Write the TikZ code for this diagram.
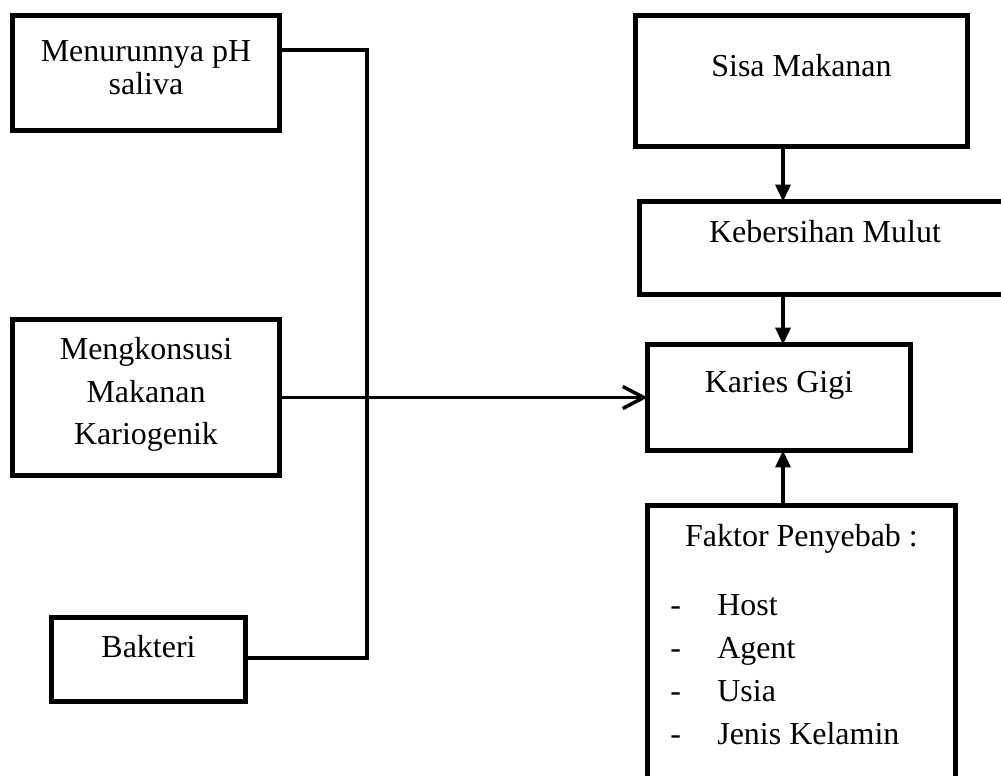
\documentclass[tikz,border=0pt]{standalone}
\usepackage{fontspec}
\setmainfont{Liberation Serif}
\usetikzlibrary{arrows.meta,calc}

\tikzset{
    box/.style={draw, line width=2.85pt, inner sep=0pt, outer sep=0pt},
    link/.style={line width=2pt},
    tri/.style={link, -{Triangle[width=0.3cm,length=0.34cm]}},
    barb/.style={link, -{Straight Barb[width=0.44cm,length=0.42cm]}},
    txt/.style={anchor=base, inner sep=0pt}
}

\begin{document}
\begin{tikzpicture}[x=0.02cm, y=-0.02cm, font=\fontsize{18.2}{24}\selectfont]
    \path[use as bounding box, clip] (0,0) rectangle (1001,776);

    % Left boxes
    \node[box, minimum width=5.34cm, minimum height=2.3cm] (ph) at (146,73) {};
    \node[box, minimum width=5.34cm, minimum height=3.12cm] (konsumsi) at (146,397.5) {};
    \node[box, minimum width=3.88cm, minimum height=1.68cm] (bakteri) at (148.5,659.5) {};
    \node[txt] (ph1) at (146,62) {Menurunnya pH};
    \node[txt] (ph2) at (146,95) {saliva};
    \node[txt] (ko1) at (146,360) {Mengkonsusi};
    \node[txt] (ko2) at (146,403) {Makanan};
    \node[txt] (ko3) at (146,445) {Kariogenik};
    \node[txt] (ba1) at (148.5,658) {Bakteri};

    % Right boxes
    \node[box, minimum width=6.64cm, minimum height=2.62cm] (sisa) at (801.5,81) {};
    \node[box, minimum width=7.42cm, minimum height=1.86cm] (bersih) at (825,248) {};
    \node[box, minimum width=5.26cm, minimum height=2.12cm] (karies) at (779,397.5) {};
    \node[box, minimum width=6.16cm, minimum height=6.24cm] (faktor) at (801.5,661.5) {};
    \node[txt] (si1) at (801.5,77) {Sisa Makanan};
    \node[txt] (be1) at (825,243) {Kebersihan Mulut};
    \node[txt] (ka1) at (779,393) {Karies Gigi};
    \node[txt] (fa1) at (801.5,547) {Faktor Penyebab :};
    \foreach \y/\item in {616/Host, 659/Agent, 702/Usia, 745/Jenis Kelamin} {
        \node[txt, anchor=base west] (dash\y) at (670,\y) {-};
        \node[txt, anchor=base west] (item\y) at (717,\y) {\item};
    }

    % Connectors
    \coordinate (top) at (367,50);
    \coordinate (bot) at (367,658);
    \coordinate (ax) at (783,0);
    \draw[link] (top -| ph.east) -- (top) -- (bot) -- (bot -| bakteri.east);
    \draw[barb] (konsumsi.east) -- (karies.west);
    \draw[tri] (sisa.south -| ax) -- (bersih.north -| ax);
    \draw[tri] (bersih.south -| ax) -- (karies.north -| ax);
    \draw[tri] (faktor.north -| ax) -- (karies.south -| ax);
\end{tikzpicture}
\end{document}
